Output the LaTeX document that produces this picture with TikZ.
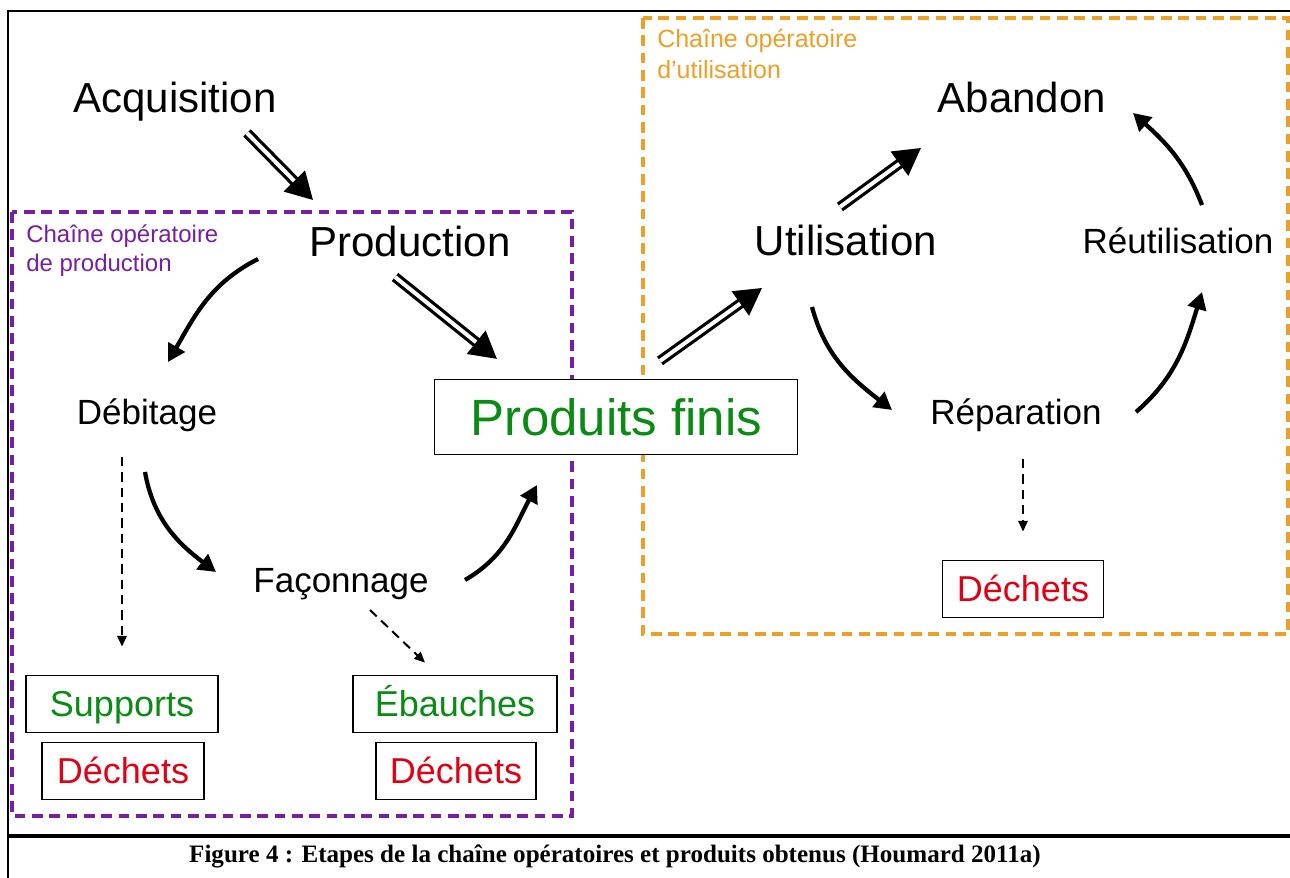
\documentclass[tikz,border=0pt]{standalone}
\usepackage{fontspec}
\setmainfont{Liberation Sans}
\newfontfamily\capfont{Liberation Serif}
\usetikzlibrary{arrows.meta}

\definecolor{prodpurple}{RGB}{120,30,165}
\definecolor{usageorange}{RGB}{236,160,40}
\definecolor{finigreen}{RGB}{10,140,20}
\definecolor{dechetred}{RGB}{225,0,20}

\tikzset{
  stage/.style={anchor=base, inner sep=0pt, font=\fontsize{31.5}{36}\selectfont},
  substage/.style={anchor=base, inner sep=0pt, font=\fontsize{26.25}{30}\selectfont},
  outbox/.style={draw, fill=white, line width=1.1pt, minimum height=43pt, inner sep=0pt, text height=19.5pt, text depth=0pt, font=\fontsize{27}{30}\selectfont},
  chainlabel/.style={anchor=north west, inner sep=0pt, align=left},
  chainbox/.style={line width=2.6pt, dash pattern=on 8pt off 5pt},
  dbl/.style={double, line width=2.4pt, double distance=3pt, -{Triangle[length=20pt,width=22pt]}},
  bent/.style={line width=3.2pt, -{Triangle[length=13pt,width=14pt]}},
  waste/.style={line width=1.5pt, dash pattern=on 7pt off 4.5pt, -{Triangle[length=8pt,width=7pt]}},
}

\begin{document}
\begin{tikzpicture}[x=0.75pt,y=0.75pt]
\useasboundingbox (0,0) rectangle (1290,878);

%% Frame and caption bar
\draw[line width=2pt] (1290,867) -- (8,867) -- (8,0);
\draw[line width=2.4pt] (8,42) -- (1290,42);

%% The two chains
\draw[chainbox, prodpurple] (12,666) rectangle (572,62);
\draw[chainbox, usageorange] (643,860) rectangle (1288,244);
\node[chainlabel, text=prodpurple, font=\fontsize{18}{21.75}\selectfont] (prodlabel) at (26,653) {Chaîne opératoire\\de production};
\node[chainlabel, text=usageorange, font=\fontsize{18.75}{23.25}\selectfont] (uselabel) at (657,849) {Chaîne opératoire\\d’utilisation};

%% Stages
\node[stage] (acq) at (175,765) {Acquisition};
\node[stage] (prod) at (410,621) {Production};
\node[stage] (util) at (846,622) {Utilisation};
\node[stage] (aband) at (1022,765) {Abandon};

\node[substage] (deb) at (147,453) {Débitage};
\node[substage] (fac) at (341,285) {Façonnage};
\node[substage] (repar) at (1016,453) {Réparation};
\node[substage] (reutil) at (1178,624) {Réutilisation};

% products
\node[outbox, text=finigreen, minimum width=272pt, minimum height=56pt, text height=27.5pt, font=\fontsize{38.25}{42}\selectfont] (pf) at (616,461) {Produits finis};
\node[outbox, text=finigreen, minimum width=144pt] (supp) at (122,174) {Supports};
\node[outbox, text=dechetred, minimum width=121.5pt] (dechA) at (123,107) {Déchets};
\node[outbox, text=finigreen, minimum width=153pt] (ebau) at (455,174) {Ébauches};
\node[outbox, text=dechetred, minimum width=120pt] (dechB) at (456,107) {Déchets};
\node[outbox, text=dechetred, minimum width=120.75pt] (dechC) at (1023,289) {Déchets};

%% Main flow
\draw[dbl] ([shift={(72,-20)}]acq.base) -- ([shift={(-97,57)}]prod.base);
\draw[dbl] ([shift={(-15,-20)}]prod.base) -- ([shift={(63,20)}]pf.north west);
\draw[dbl] ([shift={(44,18)}]pf.north) -- ([shift={(-84,-32)}]util.base);
\draw[dbl] ([shift={(-6,49)}]util.base) -- ([shift={(-101,-35)}]aband.base);

% production cycle
\draw[bent] ([shift={(-152,-2)}]prod.base) to[out=207,in=60] ([shift={(21,63)}]deb.base);
\draw[bent] ([shift={(-2,-47)}]deb.base) to[out=-80,in=143] ([shift={(-125,21)}]fac.base);
\draw[bent] ([shift={(124,13)}]fac.base) to[out=30,in=-118] ([shift={(103,-30)}]pf.south west);

% use cycle
\draw[bent] ([shift={(-34,-51)}]util.base) to[out=-75,in=142] ([shift={(-124,15)}]repar.base);
\draw[bent] ([shift={(120,13)}]repar.base) to[out=41,in=-107] ([shift={(24,-38)}]reutil.base);
\draw[bent] ([shift={(24,49)}]reutil.base) to[out=111,in=-42] ([shift={(111,0)}]aband.base);

% waste and by-products
\draw[waste] ([shift={(-25,-32)}]deb.base) -- ([shift={(0,28)}]supp.north);
\draw[waste] ([shift={(29,-17)}]fac.base) -- ([shift={(-30,12)}]ebau.north);
\draw[waste] ([shift={(7,-34)}]repar.base) -- ([shift={(0,28)}]dechC.north);

%% Caption
\node[anchor=base, inner sep=0pt, font=\capfont\bfseries\fontsize{18.8}{21}\selectfont] (caption) at (615,15) {Figure 4 : Etapes de la chaîne opératoires et produits obtenus (Houmard 2011a)};

\end{tikzpicture}
\end{document}
